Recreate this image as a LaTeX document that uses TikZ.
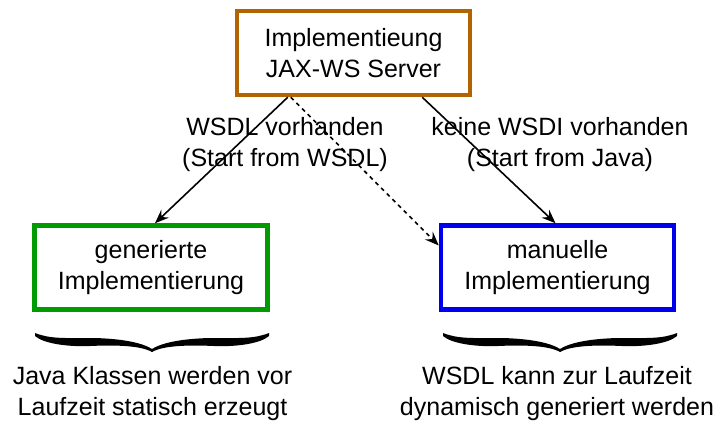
\documentclass[tikz,border=0pt]{standalone}
\usepackage{fontspec}
\setmainfont{Liberation Sans}
\usetikzlibrary{arrows.meta}
\definecolor{boxbrown}{RGB}{178,100,0}
\definecolor{boxgreen}{RGB}{0,155,0}
\definecolor{boxblue}{RGB}{0,0,235}
\tikzset{
  txt/.style={font=\fontsize{25}{31}\selectfont, align=center, inner sep=0pt},
  box/.style={txt, draw, line width=4.5pt, minimum width=233pt, minimum height=84pt},
  conn/.style={line width=1.6pt, -{Stealth[length=14pt,width=11pt,inset=5pt]}},
  dconn/.style={conn, dash pattern=on 4pt off 4pt},
  cbrace/.pic={
    \foreach \s in {1,-1}{
      \fill[xscale=\s] (-117,0) .. controls (-102,6) and (-87,5) .. (-62,5)
        .. controls (-45,5) and (-14,7) .. (0,16)
        -- (0,19) .. controls (-12,12) and (-40,12) .. (-62,13)
        .. controls (-87,14) and (-109,10) .. (-117,3) -- cycle;
    }
  }
}
\begin{document}
\begin{tikzpicture}[x=1pt,y=-1pt]
\useasboundingbox (0,0) rectangle (719,423);
\node[box, draw=boxbrown] (top) at (353.5,53) {Implementieung\\JAX-WS Server};
\node[box, draw=boxgreen] (gen) at (151,267.5) {generierte\\Implementierung};
\node[box, draw=boxblue] (man) at (557.5,267.5) {manuelle\\Implementierung};

\coordinate (s1) at ([xshift=53pt]top.south west);
\coordinate (s2) at ([xshift=56pt]top.south west);
\coordinate (s3) at ([xshift=-50pt]top.south east);

\draw[conn] (s1) -- ([xshift=4pt]gen.north);
\draw[dconn] (s2) -- ([yshift=22pt]man.west);
\draw[conn] (s3) -- ([xshift=-2pt]man.north);

\node[txt] (l1) at (285,145) {WSDL vorhanden\\(Start from WSDL)};
\node[txt] (l2) at (560,145) {keine WSDI vorhanden\\(Start from Java)};

\pic at (152,333) {cbrace};
\pic at (560,333) {cbrace};

\node[txt] (t1) at (152.5,394) {Java Klassen werden vor\\Laufzeit statisch erzeugt};
\node[txt] (t2) at (557,394) {WSDL kann zur Laufzeit\\dynamisch generiert werden};
\end{tikzpicture}
\end{document}
